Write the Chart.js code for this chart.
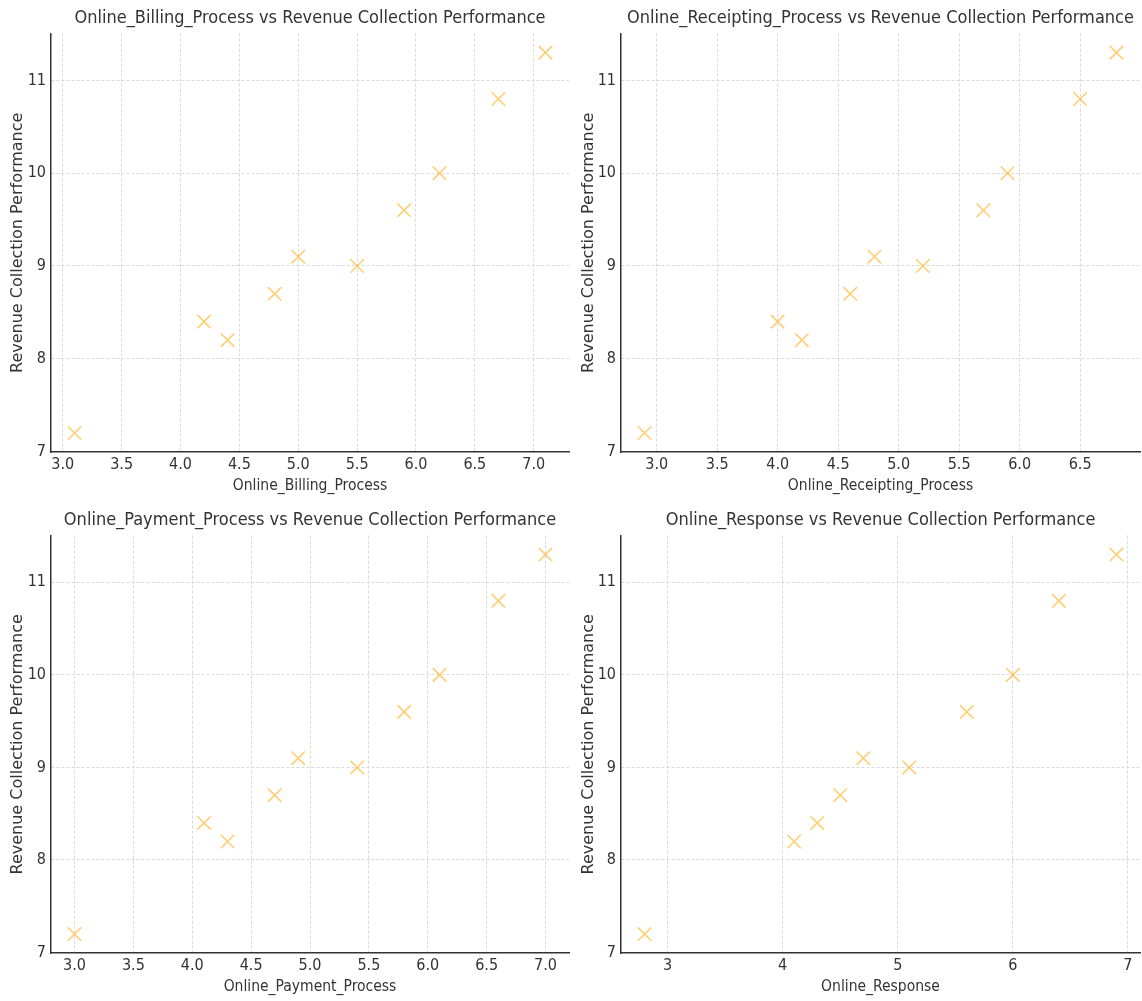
<!DOCTYPE html>
<html>
<head>
<meta charset="utf-8">
<script src="https://cdn.jsdelivr.net/npm/chart.js@4"></script>
<style>
  body { margin: 0; background: #fff; }
  canvas { position: absolute; }
</style>
</head>
<body>
<canvas id="billing" width="571" height="500" style="left:0;top:0"></canvas>
<canvas id="receipting" width="571" height="500" style="left:571px;top:0"></canvas>
<canvas id="payment" width="571" height="501" style="left:0;top:500px"></canvas>
<canvas id="response" width="571" height="501" style="left:571px;top:500px"></canvas>
<script>
// revenue collection performance, same for every panel
const revenue = [7.2, 8.4, 8.2, 8.7, 9.1, 9.0, 9.6, 10.0, 10.8, 11.3];

const billing = [3.1, 4.2, 4.4, 4.8, 5.0, 5.5, 5.9, 6.2, 6.7, 7.1];
const receipting = [2.9, 4.0, 4.2, 4.6, 4.8, 5.2, 5.7, 5.9, 6.5, 6.8];
const payment = [3.0, 4.1, 4.3, 4.7, 4.9, 5.4, 5.8, 6.1, 6.6, 7.0];
const response = [2.8, 4.3, 4.1, 4.5, 4.7, 5.1, 5.6, 6.0, 6.4, 6.9];

const yTicks = [7, 8, 9, 10, 11];
const halfTicks = [3.0, 3.5, 4.0, 4.5, 5.0, 5.5, 6.0, 6.5, 7.0];
const receiptTicks = [3.0, 3.5, 4.0, 4.5, 5.0, 5.5, 6.0, 6.5];
const wholeTicks = [3, 4, 5, 6, 7];

const narrow = "'DejaVu Sans Condensed', 'DejaVu Sans', sans-serif";
const ink = '#333';

// matplotlib style 5% margins
function limits(vals) {
  const lo = Math.min(...vals), hi = Math.max(...vals);
  const m = (hi - lo) * 0.05;
  return [lo - m, hi + m];
}

function panel(id, name, xs, ticks, decimals, top) {
  const [xmin, xmax] = limits(xs);
  const [ymin, ymax] = limits(revenue);
  const canvas = document.getElementById(id);
  new Chart(canvas.getContext('2d'), {
    type: 'scatter',
    data: {
      datasets: [{
        data: xs.map((x, i) => ({ x: x, y: revenue[i] })),
        pointStyle: 'crossRot',
        pointRadius: 9.5,
        borderWidth: 1.6,
        borderColor: 'rgba(255,165,0,0.55)',
        backgroundColor: 'rgba(255,165,0,0.55)'
      }]
    },
    options: {
      responsive: false,
      animation: false,
      layout: { autoPadding: false, padding: { left: 0, right: 2, top: 0, bottom: 0 } },
      plugins: {
        legend: { display: false },
        tooltip: { enabled: false },
        title: {
          display: true,
          fullSize: false,
          text: name + ' vs Revenue Collection Performance',
          color: ink,
          font: { family: narrow, size: 18, weight: 'normal' },
          padding: { top: top, bottom: 4 }
        }
      },
      scales: {
        x: {
          type: 'linear',
          min: xmin,
          max: xmax,
          afterBuildTicks: s => { s.ticks = ticks.map(v => ({ value: v })); },
          afterFit: s => { s.height = 48; s.paddingLeft = 0; s.paddingRight = 0; },
          ticks: {
            color: ink,
            font: { family: narrow, size: 16 },
            padding: 3,
            maxRotation: 0,
            callback: v => Number(v).toFixed(decimals)
          },
          grid: { color: '#d9d9d9', lineWidth: 1, drawTicks: false },
          border: { display: true, color: ink, width: 1.5, dash: [3, 2] },
          title: {
            display: true,
            text: name,
            color: ink,
            font: { family: narrow, size: 15.5 },
            padding: { top: 2, bottom: 5 }
          }
        },
        y: {
          type: 'linear',
          min: ymin,
          max: ymax,
          afterBuildTicks: s => { s.ticks = yTicks.map(v => ({ value: v })); },
          afterFit: s => {
            s.width = id === 'billing' || id === 'payment' ? 51 : 50;
            s.paddingTop = 0; s.paddingBottom = 0;
          },
          ticks: {
            color: ink,
            font: { family: narrow, size: 16 },
            padding: 5,
            callback: v => String(v)
          },
          grid: { color: '#d9d9d9', lineWidth: 1, drawTicks: false },
          border: { display: true, color: ink, width: 1.5, dash: [3, 2] },
          title: {
            display: true,
            text: 'Revenue Collection Performance',
            color: ink,
            font: { family: "'DejaVu Sans', sans-serif", size: 16 },
            padding: { top: 8, bottom: 0 }
          }
        }
      }
    }
  });
}

panel('billing', 'Online_Billing_Process', billing, halfTicks, 1, 8);
panel('receipting', 'Online_Receipting_Process', receipting, receiptTicks, 1, 8);
panel('payment', 'Online_Payment_Process', payment, halfTicks, 1, 10);
panel('response', 'Online_Response', response, wholeTicks, 0, 10);
</script>
</body>
</html>
